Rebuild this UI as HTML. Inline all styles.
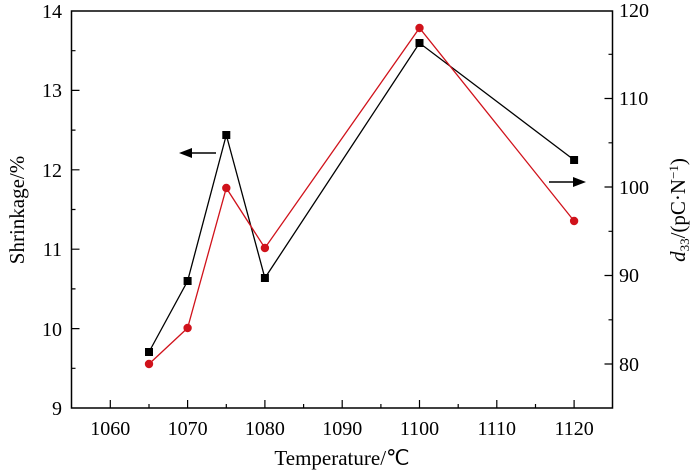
<!DOCTYPE html>
<html><head><style>body{margin:0;background:#fff}svg{display:block}</style></head><body>
<svg width="700" height="473" viewBox="0 0 700 473" xmlns="http://www.w3.org/2000/svg" font-family="'Liberation Serif', 'Times New Roman', serif">
<rect x="71.5" y="11" width="541" height="397" fill="none" stroke="#000" stroke-width="1.5"/>
<g stroke="#000" stroke-width="1.2">
<path d="M110.3 408v-8M187.6 408v-8M264.9 408v-8M342.2 408v-8M419.5 408v-8M496.8 408v-8M574.1 408v-8"/>
<path d="M149 408v-4M226.3 408v-4M303.6 408v-4M380.9 408v-4M458.2 408v-4M535.5 408v-4"/>
<path d="M71.5 328.6h8M71.5 249.2h8M71.5 169.8h8M71.5 90.4h8"/>
<path d="M71.5 368.3h4M71.5 288.9h4M71.5 209.5h4M71.5 130.1h4M71.5 50.7h4"/>
<path d="M612.5 364h-8M612.5 275.5h-8M612.5 187h-8M612.5 98.5h-8"/>
<path d="M612.5 319.8h-4M612.5 231.3h-4M612.5 142.8h-4M612.5 54.3h-4"/>
</g>
<g font-size="20" text-anchor="middle" font-family="'Liberation Serif', serif">
<text x="110.3" y="435">1060</text><text x="187.6" y="435">1070</text><text x="264.9" y="435">1080</text><text x="342.2" y="435">1090</text><text x="419.5" y="435">1100</text><text x="496.8" y="435">1110</text><text x="574.1" y="435">1120</text>
</g>
<g font-size="20" text-anchor="end" font-family="'Liberation Serif', serif">
<text x="62" y="415">9</text><text x="62" y="336">10</text><text x="62" y="256">11</text><text x="62" y="177">12</text><text x="62" y="97">13</text><text x="62" y="18">14</text>
</g>
<g font-size="20" text-anchor="start" font-family="'Liberation Serif', serif">
<text x="619" y="371">80</text><text x="619" y="282">90</text><text x="619" y="194">100</text><text x="619" y="105">110</text><text x="619" y="17">120</text>
</g>
<text x="342" y="465" font-size="21" text-anchor="middle" font-family="'Liberation Serif', serif">Temperature/℃</text>
<text transform="translate(24,210) rotate(-90)" font-size="21" text-anchor="middle" font-family="'Liberation Serif', serif">Shrinkage/%</text>
<text transform="translate(685,210) rotate(-90)" font-size="21" text-anchor="middle" font-family="'Liberation Serif', serif"><tspan font-style="italic">d</tspan><tspan font-size="13" dy="4">33</tspan><tspan dy="-4">/(pC·N</tspan><tspan font-size="13" dy="-7">−1</tspan><tspan dy="7">)</tspan></text>
<polyline fill="none" stroke="#000" stroke-width="1.3" points="149,352 187.6,281 226.3,135 264.9,278 419.5,43 574.1,160"/>
<g fill="#000"><rect x="145" y="348" width="8" height="8"/><rect x="183.6" y="277" width="8" height="8"/><rect x="222.3" y="131" width="8" height="8"/><rect x="260.9" y="274" width="8" height="8"/><rect x="415.5" y="39" width="8" height="8"/><rect x="570.1" y="156" width="8" height="8"/></g>
<polyline fill="none" stroke="#d0121b" stroke-width="1.3" points="149,364 187.6,328 226.3,188 264.9,248 419.5,28 574.1,221"/>
<g fill="#d0121b"><circle cx="149" cy="364" r="4.2"/><circle cx="187.6" cy="328" r="4.2"/><circle cx="226.3" cy="188" r="4.2"/><circle cx="264.9" cy="248" r="4.2"/><circle cx="419.5" cy="28" r="4.2"/><circle cx="574.1" cy="221" r="4.2"/></g>
<g stroke="#000" stroke-width="1.5"><path d="M190 153h26"/><path d="M549 182h26"/></g>
<path d="M179 153l13-5v10z" fill="#000"/><path d="M586 182l-13-5v10z" fill="#000"/>
</svg>
</body></html>
